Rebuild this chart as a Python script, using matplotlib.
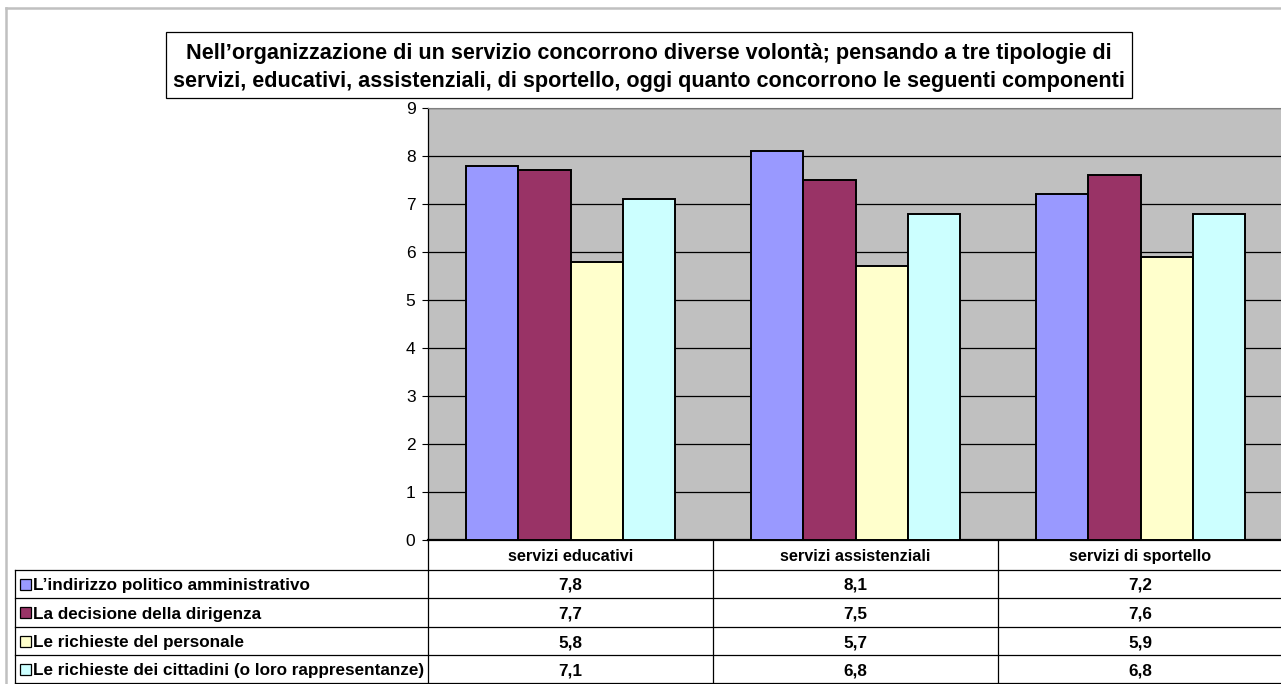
import matplotlib.pyplot as plt
from matplotlib.patches import Rectangle
from matplotlib.lines import Line2D

plt.rcParams['font.family'] = ['Liberation Sans', 'DejaVu Sans']

# Dati
categorie = ['servizi educativi', 'servizi assistenziali', 'servizi di sportello']
serie = ['L\u2019indirizzo politico amministrativo',
         'La decisione della dirigenza',
         'Le richieste del personale',
         'Le richieste dei cittadini (o loro rappresentanze)']
indirizzo = [7.8, 8.1, 7.2]
dirigenza = [7.7, 7.5, 7.6]
personale = [5.8, 5.7, 5.9]
cittadini = [7.1, 6.8, 6.8]
valori = [indirizzo, dirigenza, personale, cittadini]
colori = ['#9999FF', '#993366', '#FFFFCC', '#CCFFFF']
titolo = ['Nell\u2019organizzazione di un servizio concorrono diverse volontà; pensando a tre tipologie di',
          'servizi, educativi, assistenziali, di sportello, oggi quanto concorrono le seguenti componenti']

W, H = 1281, 684
fig = plt.figure(figsize=(W / 100, H / 100), dpi=100)

def fx(px):
    return px / W

def fy(py):
    return 1 - py / H

# Area del grafico
x0, x1, y0, y1 = 428, 1283, 540, 108
ax = fig.add_axes([fx(x0), fy(y0), fx(x1 - x0), fy(y1) - fy(y0)])
ax.set_facecolor('#C0C0C0')
larg = 0.1825
for i, (vals, col) in enumerate(zip(valori, colori)):
    pos = [k + (i - 1.5) * larg for k in range(len(categorie))]
    ax.bar(pos, vals, width=larg, color=col, edgecolor='black', linewidth=1.4, zorder=3)
ax.set_xlim(-0.5, 2.5)
ax.set_ylim(0, 9)
ax.set_yticks(range(10))
ax.yaxis.grid(True, color='black', linewidth=0.9, zorder=0)
ax.set_xticks([])
ax.tick_params(axis='y', labelsize=12.5, length=4, width=0.8, pad=5)
ax.spines['top'].set_color('#808080')
ax.spines['right'].set_visible(False)
ax.spines['left'].set_linewidth(0.9)
ax.spines['bottom'].set_linewidth(1.6)

# Titolo
fig.add_artist(Rectangle((fx(166), fy(98)), fx(1132 - 166), fy(32) - fy(98),
                         facecolor='white', edgecolor='black', linewidth=0.9))
for k, riga in enumerate(titolo):
    fig.text(fx(649), fy(51 + 28 * k), riga, ha='center', va='center_baseline',
             fontsize=15.6, fontweight='bold')

# Tabella dati
righe = [540, 570, 598, 627, 655, 683]
colx = [428, 713, 998, 1283]
for yy in righe[1:]:
    fig.add_artist(Line2D([fx(15), fx(1283)], [fy(yy), fy(yy)], color='black', linewidth=0.9))
fig.add_artist(Line2D([fx(15), fx(15)], [fy(570), fy(683)], color='black', linewidth=0.9))
for xx in colx[:3]:
    fig.add_artist(Line2D([fx(xx), fx(xx)], [fy(540), fy(683)], color='black', linewidth=0.9))

for j, cat in enumerate(categorie):
    cx = (colx[j] + colx[j + 1]) / 2
    fig.text(fx(cx), fy((righe[0] + righe[1]) / 2), cat, ha='center', va='center_baseline',
             fontsize=11.7, fontweight='bold')

for i, (nome, vals, col) in enumerate(zip(serie, valori, colori)):
    cy = (righe[i + 1] + righe[i + 2]) / 2
    fig.add_artist(Rectangle((fx(20), fy(cy + 5.5)), fx(11), fy(cy - 5.5) - fy(cy + 5.5),
                             facecolor=col, edgecolor='black', linewidth=0.9))
    fig.text(fx(33), fy(cy), nome, ha='left', va='center_baseline', fontsize=12.3, fontweight='bold')
    for j, v in enumerate(vals):
        cx = (colx[j] + colx[j + 1]) / 2
        fig.text(fx(cx), fy(cy), f'{v:.1f}'.replace('.', ','), ha='center', va='center_baseline',
                 fontsize=12.3, fontweight='bold')

# Bordo esterno
fig.add_artist(Line2D([fx(6), fx(W)], [fy(8), fy(8)], color='#C0C0C0', linewidth=1.8))
fig.add_artist(Line2D([fx(6), fx(6)], [fy(8), fy(H)], color='#C0C0C0', linewidth=1.8))

fig.savefig('out.png', dpi=100)
